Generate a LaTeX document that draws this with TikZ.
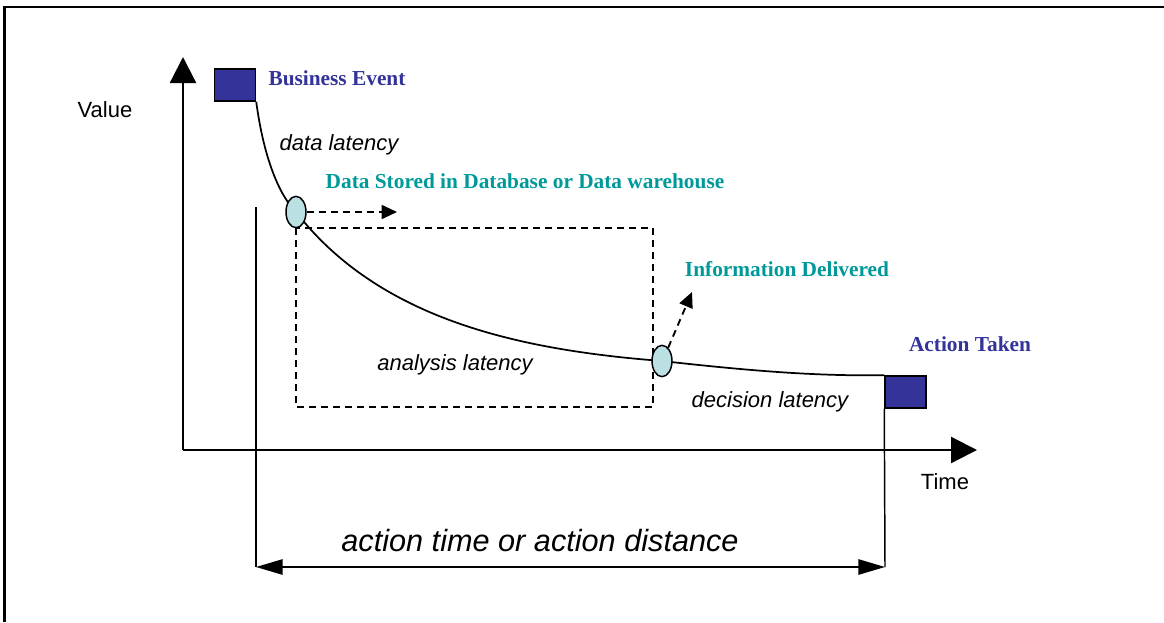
\documentclass[tikz,border=0pt]{standalone}
\usepackage{fontspec}
\setmainfont{Liberation Serif}
\setsansfont{Liberation Sans}
\usetikzlibrary{arrows.meta,shapes.geometric}
\definecolor{eventblue}{HTML}{333399}
\definecolor{infoteal}{HTML}{009999}
\definecolor{pointfill}{HTML}{BBE0E3}
\tikzset{
  evbox/.style={draw=black,line width=1.1pt,fill=eventblue,minimum width=30.75pt,minimum height=24pt,inner sep=0pt},
  pointmark/.style={ellipse,draw=black,line width=1.1pt,fill=pointfill,minimum width=15pt,minimum height=23.5pt,inner sep=0pt},
  axisline/.style={line width=1.7pt,-{Triangle[length=19.5pt,width=19.5pt]}},
  valcurve/.style={line width=1.3pt},
  dashline/.style={line width=1.4pt,dash pattern=on 5.2pt off 3.8pt},
  dasharrow/.style={dashline,-{Triangle[length=11.5pt,width=10.5pt]}},
  thinline/.style={line width=1.1pt},
  spanarrow/.style={line width=1.3pt,{Triangle[length=20pt,width=11.5pt]}-{Triangle[length=20pt,width=11.5pt]}},
  axislabel/.style={font=\sffamily\fontsize{16.5}{18}\selectfont,inner sep=0pt},
  latency/.style={font=\sffamily\itshape\fontsize{16.5}{18}\selectfont,inner sep=0pt},
  spanlabel/.style={font=\sffamily\itshape\fontsize{23}{26}\selectfont,inner sep=0pt},
  eventlabel/.style={font=\bfseries\fontsize{16}{18}\selectfont,text=eventblue,inner sep=0pt},
  infolabel/.style={font=\bfseries\fontsize{16}{18}\selectfont,text=infoteal,inner sep=0pt}
}
\begin{document}
\begin{tikzpicture}[x=0.75pt,y=-0.75pt]
\useasboundingbox (0,0) rectangle (1164,622);
% page frame (top and left edges)
\draw[line width=1.6pt] (4.5,622) -- (4.5,7) -- (1164,7);

% axes
\coordinate (origin) at (183,450);
\coordinate (ytip) at (183,57);
\coordinate (xtip) at (977,450);
\draw[axisline] (origin) -- (ytip);
\draw[axisline] (origin) -- (xtip);
\node[axislabel] (vlabel) at (105,110) {Value};
\node[axislabel] (tlabel) at (945,482) {Time};

% event squares
\node[evbox] (be) at (235,85) {};
\node[evbox] (at) at (905.5,392) {};

% analysis window
\coordinate (boxtl) at (296,228);
\coordinate (boxbr) at (653,407);
\draw[dashline] (boxtl) rectangle (boxbr);

% span markers and the double arrow
\coordinate (lstart) at (256,207);
\coordinate (lend) at (256,567);
\coordinate (rend) at (885,567);
\draw[thinline] (lstart) -- (lend);
\draw[thinline] (at.south west) -- (rend);
\draw[spanarrow] (lend) -- (rend);

% points on the value curve
\coordinate (c1) at (296,212);
\coordinate (c2) at (662,361);
\draw[valcurve] (be.south east) .. controls (264,160) and (280,196) .. (c1)
  .. controls (380,320) and (520,350) .. (c2)
  .. controls (760,372) and (820,376) .. (at.north west);
\node[pointmark] (ds) at (c1) {};
\node[pointmark] (id) at (c2) {};

% outgoing dashed arrows
\coordinate (dsout) at (397,212);
\coordinate (idout) at (692,292);
\draw[dasharrow] (ds.east) -- (dsout);
\draw[dasharrow] (id.65) -- (idout);

% labels
\node[eventlabel] (belabel) at (337,78) {Business Event};
\node[eventlabel] (atlabel) at (970,344) {Action Taken};
\node[infolabel] (dslabel) at (525,181) {Data Stored in Database or Data warehouse};
\node[infolabel] (idlabel) at (787,269) {Information Delivered};
\node[latency] (dl) at (339,145) {data latency};
\node[latency] (al) at (455,365) {analysis latency};
\node[latency] (decl) at (770,402) {decision latency};
\node[spanlabel] (span) at (540,541) {action time or action distance};
\end{tikzpicture}
\end{document}
